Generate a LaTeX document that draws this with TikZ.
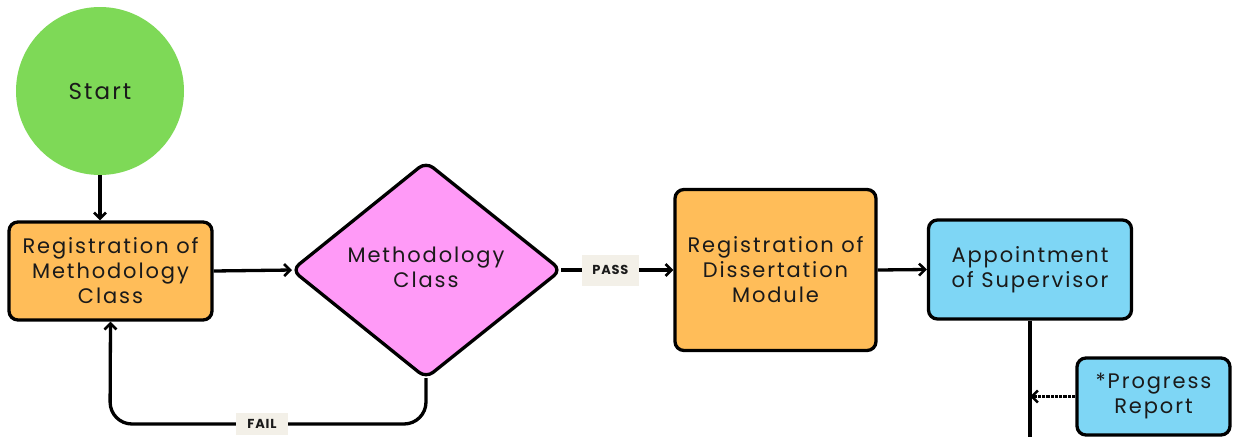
\documentclass[tikz,border=0pt]{standalone}
\usepackage{fontspec}
\setmainfont{Poppins}[LetterSpace=9]
\newfontfamily\tagfont{Poppins}[LetterSpace=6]
\usetikzlibrary{arrows.meta,shapes.geometric}
\definecolor{cgreen}{HTML}{7ED957}
\definecolor{corange}{HTML}{FFBD59}
\definecolor{cpink}{HTML}{FF9AF7}
\definecolor{cblue}{HTML}{7ED6F5}
\definecolor{clabel}{HTML}{F3F0E8}
\definecolor{cink}{HTML}{1A1A1A}
\begin{document}
\begin{tikzpicture}[x=1pt,y=-1pt,
  every node/.style={text=cink},
  boxnode/.style={draw=black,line width=3.3pt,rounded corners=9pt,align=center,inner sep=0pt,font=\fontsize{21}{25}\selectfont},
  tag/.style={fill=clabel,inner sep=0pt,font=\tagfont\fontsize{13}{15}\selectfont\bfseries},
  conn/.style={line width=3.3pt,draw=black,-{Straight Barb[length=6pt,width=12pt,line width=2.6pt]}},
  plainconn/.style={line width=3.3pt,draw=black}]
\useasboundingbox (0,0) rectangle (1234,437);
\fill[white] (0,0) rectangle (1234,437);
% nodes
\node[circle,fill=cgreen,minimum size=168pt,inner sep=0pt,font=\fontsize{23}{27}\selectfont] (start) at (100,91) {Start};
\node[boxnode,fill=corange,minimum width=203pt,minimum height=98pt] (regm) at (110.5,271) {Registration of\\Methodology\\Class};
\draw[line width=3.3pt,fill=cpink,rounded corners=9pt] (292,270) -- (426,162) -- (561,270) -- (426,378) -- cycle;
\coordinate (dl) at (292,270);
\coordinate (dr) at (561,270);
\coordinate (db) at (426,378);
\node[font=\fontsize{21}{25}\selectfont,align=center] (meth) at (426,267) {Methodology\\Class};
\node[boxnode,fill=corange,minimum width=201pt,minimum height=161pt] (regd) at (775.5,270) {Registration of\\Dissertation\\Module};
\node[boxnode,fill=cblue,minimum width=203pt,minimum height=99pt] (appt) at (1030,269.5) {Appointment\\of Supervisor};
\node[boxnode,fill=cblue,minimum width=153pt,minimum height=77pt] (prog) at (1153.5,396.5) {*Progress\\Report};
\coordinate (vbot) at (1030,437);
\coordinate (vjoin) at (1030,396.5);
% connectors
\draw[conn] (start.south) -- (start.south |- regm.north);
\draw[conn] (regm.east) -- (dl);
\draw[conn] (dr) -- (regd.west) node[tag,pos=0.44,minimum width=57pt,minimum height=31pt] (pass) {PASS};
\draw[conn] (regd.east) -- (appt.west);
\draw[plainconn] (appt.south) -- (vbot);
\draw[line width=3.3pt,densely dotted,-{Straight Barb[length=6pt,width=12pt,line width=2.6pt]}] (prog.west) -- (vjoin);
\draw[conn,rounded corners=22pt] (db) -- (426,424) -- (110,424) -- (regm.south);
\node[tag,minimum width=52pt,minimum height=22pt] (fail) at (262,424) {FAIL};
\end{tikzpicture}
\end{document}
